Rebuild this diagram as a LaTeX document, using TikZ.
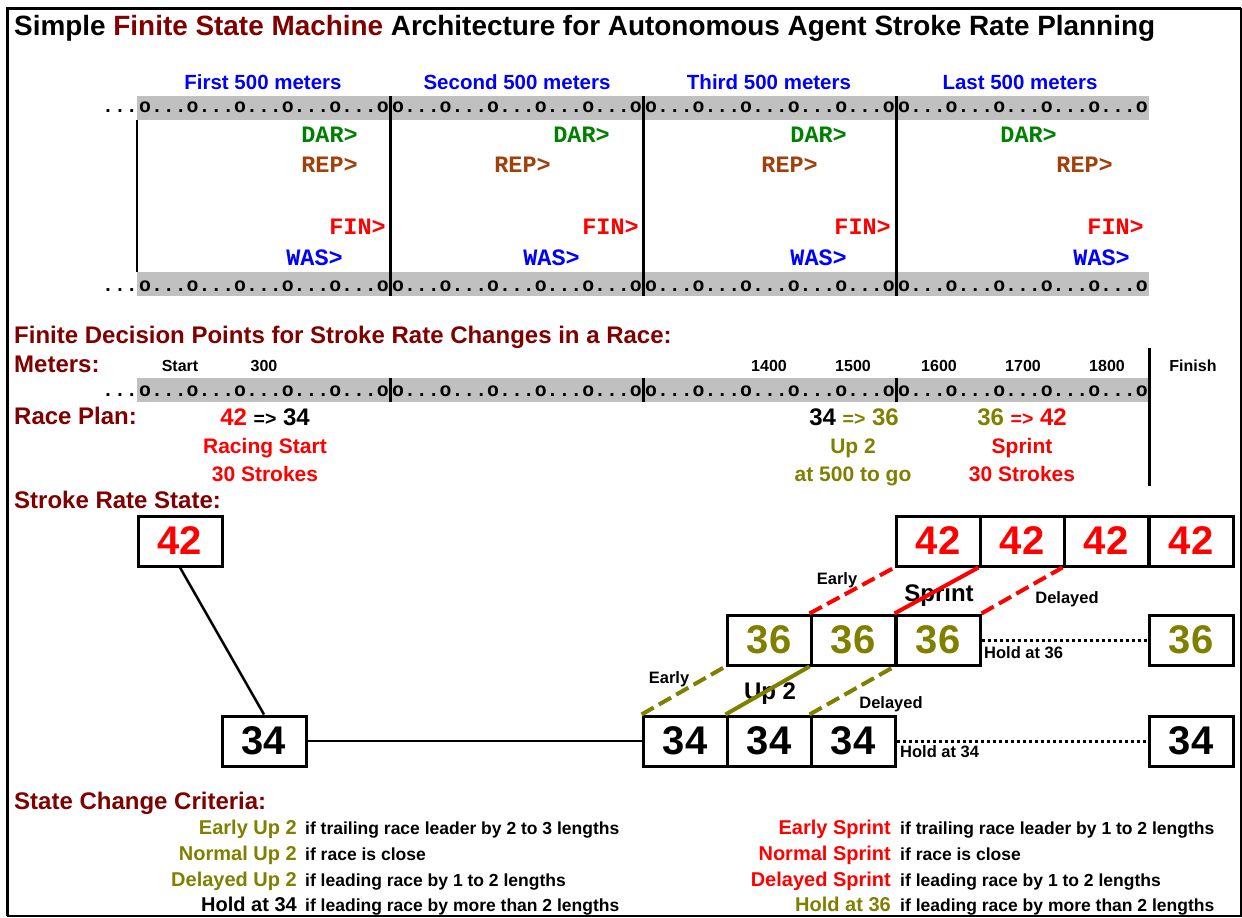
\documentclass[tikz,border=0pt]{standalone}
\usepackage{fontspec}
\setmainfont{Liberation Sans}
\newfontfamily\monofam{Liberation Mono}
\definecolor{darkred}{RGB}{128,0,0}
\definecolor{olv}{RGB}{128,128,0}
\definecolor{dgreen}{RGB}{0,128,0}
\definecolor{brn}{RGB}{160,64,10}
\definecolor{pureblue}{RGB}{0,0,255}
\definecolor{purered}{RGB}{255,0,0}
\definecolor{bargray}{RGB}{192,192,192}
\newcommand\fsz[1]{\fontsize{#1}{#1}\selectfont}
\tikzset{
  sect/.style={anchor=base west, inner sep=0pt, font=\bfseries\fsz{24}, text=darkred},
  hdr/.style={anchor=base, inner sep=0pt, font=\bfseries\fsz{20.5}, text=pureblue},
  tag/.style={anchor=base east, inner sep=0pt, font=\monofam\bfseries\fsz{23.5}},
  ticks/.style={anchor=base west, inner sep=0pt, font=\monofam\bfseries\fsz{19.8}},
  mtr/.style={anchor=base, inner sep=0pt, font=\bfseries\fsz{16}},
  plan/.style={anchor=base, inner sep=0pt, font=\bfseries\fsz{21}},
  statebox/.style={draw=black, line width=3pt, minimum width=84pt, minimum height=50pt,
    inner sep=0pt, font=\bfseries\fsz{40}},
  small/.style={anchor=base, inner sep=0pt, font=\bfseries\fsz{16.5}},
  big/.style={anchor=base, inner sep=0pt, font=\bfseries\fsz{24}},
  critlab/.style={anchor=base east, inner sep=0pt, font=\bfseries\fsz{20}},
  critdesc/.style={anchor=base west, inner sep=0pt, font=\bfseries\fsz{17.5}},
  link/.style={line width=2.5pt},
  trans/.style={line width=4pt},
  dashtrans/.style={line width=4pt, dash pattern=on 14pt off 6pt},
  hold/.style={line width=3pt, dash pattern=on 3pt off 3pt},
  divider/.style={line width=3pt},
}
\begin{document}
\begin{tikzpicture}[x=1pt,y=-1pt]
\useasboundingbox (0,0) rectangle (1242,918);
\fill[white] (0,0) rectangle (1242,918);

% outer frame: heavy top and left edges, light right and bottom edges
\draw[line width=3pt] (7,916) -- (7,8) -- (1241,8);
\draw[line width=1.2pt] (1241,8) -- (1241,916) -- (7,916);

% title
\node[anchor=base west, inner sep=0pt, font=\bfseries\fsz{27.9}] (title) at (14,35)
  {Simple \textcolor{darkred}{Finite State Machine} Architecture for Autonomous Agent Stroke Rate Planning};

% ---------- course overview: four 500 m segments ----------
\node[hdr] (h1) at (263,89) {First 500 meters};
\node[hdr] (h2) at (517,89) {Second 500 meters};
\node[hdr] (h3) at (769,89) {Third 500 meters};
\node[hdr] (h4) at (1020,89) {Last 500 meters};

\fill[bargray] (137,96) rectangle (1149,120);
\fill[bargray] (137,272) rectangle (1149,296);
\fill[bargray] (137,378) rectangle (1149,402);

\draw[line width=1.2pt] (137,120) -- (137,272);
\foreach \xd in {390,643,896} {
  \draw[divider] (\xd,96) -- (\xd,296);
  \draw[divider] (\xd,378) -- (\xd,402);
}

\foreach \yb [count=\r] in {112,291,396} {
  \node[ticks, anchor=base east] (lead-\r) at (138,\yb) {...};
  \foreach \xs [count=\s] in {139,392,645,898} {
    \node[ticks] (tk-\r-\s) at (\xs,\yb) {o...o...o...o...o...o};
  }
}

% crew markers in each segment
\node[tag, text=dgreen]    (dar1) at (358,142) {DAR>};
\node[tag, text=brn]       (rep1) at (358,172) {REP>};
\node[tag, text=purered]   (fin1) at (386,234) {FIN>};
\node[tag, text=pureblue]  (was1) at (343,265) {WAS>};

\node[tag, text=dgreen]    (dar2) at (610,142) {DAR>};
\node[tag, text=brn]       (rep2) at (551,172) {REP>};
\node[tag, text=purered]   (fin2) at (639,234) {FIN>};
\node[tag, text=pureblue]  (was2) at (580,265) {WAS>};

\node[tag, text=dgreen]    (dar3) at (847,142) {DAR>};
\node[tag, text=brn]       (rep3) at (818,172) {REP>};
\node[tag, text=purered]   (fin3) at (891,234) {FIN>};
\node[tag, text=pureblue]  (was3) at (847,265) {WAS>};

\node[tag, text=dgreen]    (dar4) at (1057,142) {DAR>};
\node[tag, text=brn]       (rep4) at (1113,172) {REP>};
\node[tag, text=purered]   (fin4) at (1144,234) {FIN>};
\node[tag, text=pureblue]  (was4) at (1130,265) {WAS>};

% ---------- decision points ----------
\node[sect] (decpts) at (14,343) {Finite Decision Points for Stroke Rate Changes in a Race:};
\node[sect] (meters) at (14,372) {Meters:};

\node[mtr] (mStart) at (180,371) {Start};
\node[mtr] (m300)   at (264,371) {300};
\node[mtr] (m1400)  at (769,371) {1400};
\node[mtr] (m1500)  at (853,371) {1500};
\node[mtr] (m1600)  at (939,371) {1600};
\node[mtr] (m1700)  at (1023,371) {1700};
\node[mtr] (m1800)  at (1107,371) {1800};
\node[mtr] (mFinish) at (1193,371) {Finish};
\draw[divider] (1149,348) -- (1149,486);

\node[sect] (raceplan) at (14,424) {Race Plan:};

\node[plan] (p1a) at (265,425) {\fsz{24}\textcolor{purered}{42} {\fsz{19.5}=>} 34};
\node[plan, text=purered] (p1b) at (265,453) {Racing Start};
\node[plan, text=purered] (p1c) at (265,481) {30 Strokes};

\node[plan] (p2a) at (854,425) {\fsz{24}34 \textcolor{olv}{{\fsz{19.5}=>} 36}};
\node[plan, text=olv] (p2b) at (853,453) {Up 2};
\node[plan, text=olv] (p2c) at (853,481) {at 500 to go};

\node[plan] (p3a) at (1022,425) {\fsz{24}\textcolor{olv}{36} \textcolor{purered}{{\fsz{19.5}=>} 42}};
\node[plan, text=purered] (p3b) at (1022,453) {Sprint};
\node[plan, text=purered] (p3c) at (1022,481) {30 Strokes};

% ---------- stroke rate states ----------
\node[sect] (srstate) at (14,508) {Stroke Rate State:};

\node[statebox, text=purered] (s42) at (180,541) {42};
\node[statebox] (s34) at (264,741) {34};

\node[statebox, text=purered] (t42a) at (938,541) {42};
\node[statebox, text=purered] (t42b) at (1022,541) {42};
\node[statebox, text=purered] (t42c) at (1106,541) {42};
\node[statebox, text=purered] (t42d) at (1191,541) {42};

\node[statebox, text=olv] (t36a) at (769,640) {36};
\node[statebox, text=olv] (t36b) at (853,640) {36};
\node[statebox, text=olv] (t36c) at (938,640) {36};
\node[statebox, text=olv] (t36f) at (1191,640) {36};

\node[statebox] (t34a) at (685,741) {34};
\node[statebox] (t34b) at (769,741) {34};
\node[statebox] (t34c) at (853,741) {34};
\node[statebox] (t34f) at (1191,741) {34};

% transition labels
\node[small] (lEarlyS) at (837,584) {Early};
\node[big]   (lSprint) at (939,601) {Sprint};
\node[small] (lDelS)   at (1067,603) {Delayed};
\node[small, anchor=base west] (lHold36) at (984,658) {Hold at 36};
\node[small] (lEarlyU) at (669,683) {Early};
\node[big]   (lUp2)    at (770,699) {Up 2};
\node[small] (lDelU)   at (891,708) {Delayed};
\node[small, anchor=base west] (lHold34) at (900,757) {Hold at 34};

% transitions
\draw[link] (s42.south) -- (s34.north);
\draw[link] (s34.east) -- (t34a.west);

\draw[dashtrans, olv] (t34a.north west) -- (t36a.south west);
\draw[trans, olv]     (t34b.north west) -- (t36b.south west);
\draw[dashtrans, olv] (t34c.north west) -- (t36c.south west);

\draw[dashtrans, purered] (t36b.north west) -- (t42a.south west);
\draw[trans, purered]     (t36c.north west) -- (t42b.south west);
\draw[dashtrans, purered] (t36c.north east) -- (t42c.south west);

\draw[hold] (t36c.east) -- (t36f.west);
\draw[hold] (t34c.east) -- (t34f.west);

% ---------- criteria ----------
\node[sect] (crit) at (14,809) {State Change Criteria:};

\node[critlab, text=olv] (cl1) at (297,834) {Early Up 2};
\node[critlab, text=olv] (cl2) at (297,860) {Normal Up 2};
\node[critlab, text=olv] (cl3) at (297,886) {Delayed Up 2};
\node[critlab]           (cl4) at (297,911) {Hold at 34};
\node[critdesc] (cd1) at (305,834) {if trailing race leader by 2 to 3 lengths};
\node[critdesc] (cd2) at (305,860) {if race is close};
\node[critdesc] (cd3) at (305,886) {if leading race by 1 to 2 lengths};
\node[critdesc] (cd4) at (305,911) {if leading race by more than 2 lengths};

\node[critlab, text=purered] (cr1) at (891,834) {Early Sprint};
\node[critlab, text=purered] (cr2) at (891,860) {Normal Sprint};
\node[critlab, text=purered] (cr3) at (891,886) {Delayed Sprint};
\node[critlab, text=olv]     (cr4) at (891,911) {Hold at 36};
\node[critdesc] (cs1) at (900,834) {if trailing race leader by 1 to 2 lengths};
\node[critdesc] (cs2) at (900,860) {if race is close};
\node[critdesc] (cs3) at (900,886) {if leading race by 1 to 2 lengths};
\node[critdesc] (cs4) at (900,911) {if leading race by more than 2 lengths};
\end{tikzpicture}
\end{document}
